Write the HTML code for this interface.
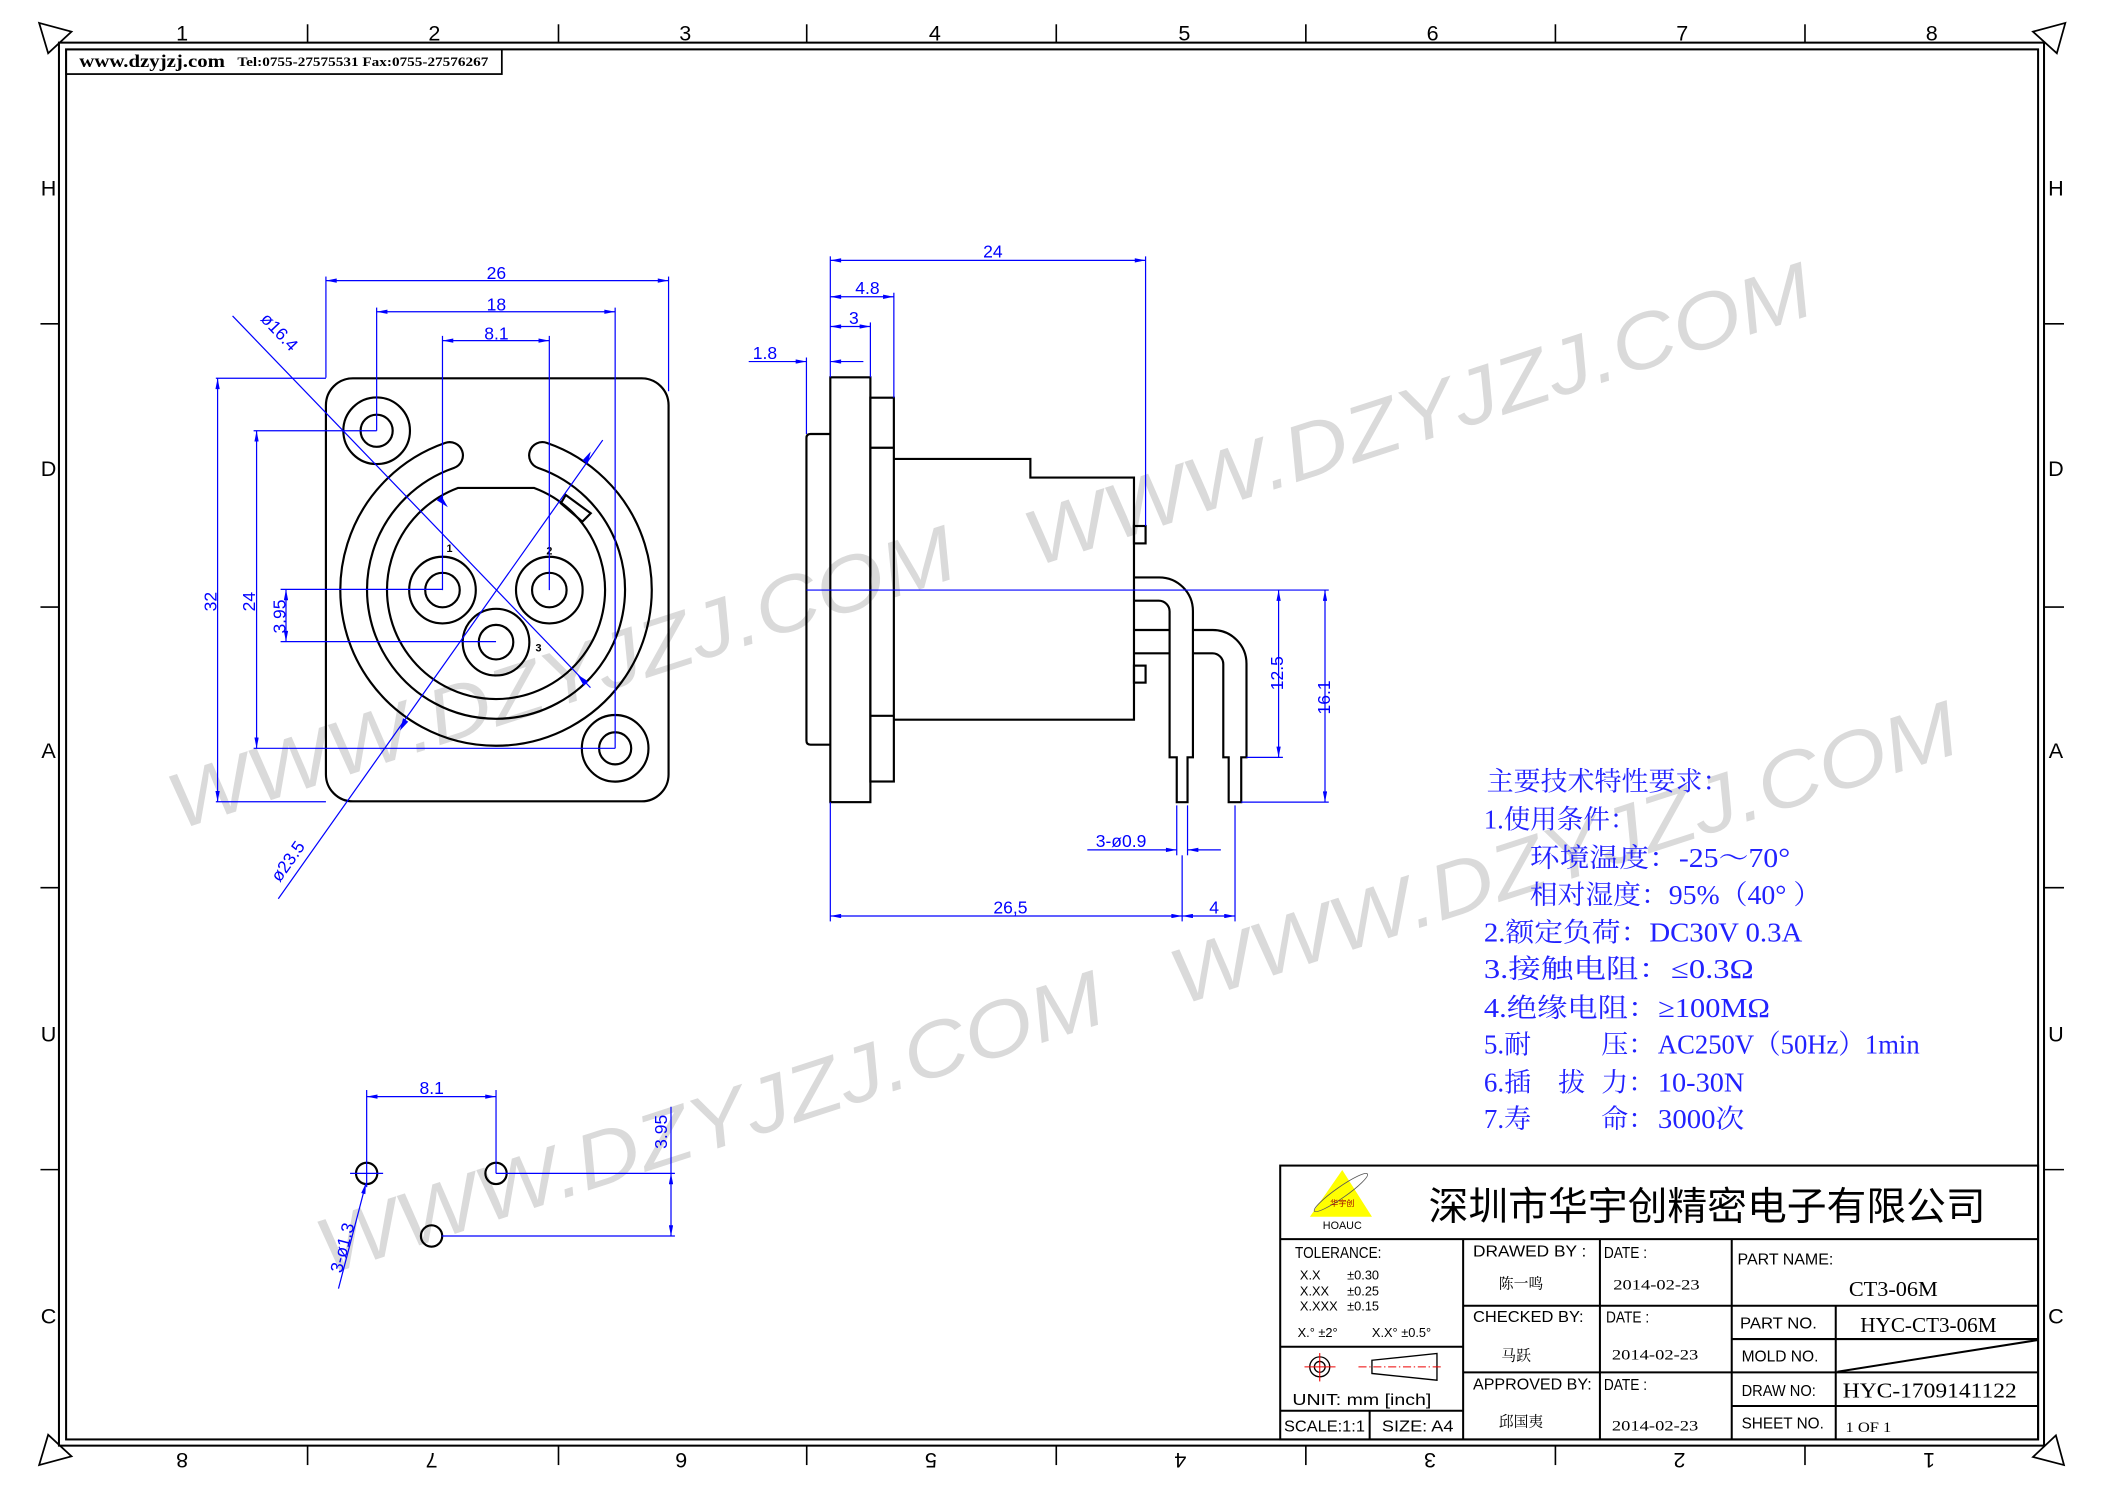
<!DOCTYPE html>
<html><head><meta charset="utf-8"><style>
html,body{margin:0;padding:0;background:#fff;}
svg{display:block;}
.k{stroke:#000;stroke-width:1.6;fill:none;}
.b{stroke:#0000ff;stroke-width:0.9;fill:none;}
.d{font-family:"Liberation Sans",sans-serif;font-size:13px;fill:#0000ff;}
.t{font-family:"Liberation Sans","Noto Sans CJK SC",sans-serif;fill:#000;}
.s{font-family:"Liberation Serif","Noto Serif CJK SC",serif;fill:#000;}
.n{font-family:"Liberation Serif","Noto Serif CJK SC",serif;font-size:20px;fill:#2222ff;}
.w{font-family:"Liberation Sans",sans-serif;font-style:italic;font-size:58px;fill:#dadada;}
</style></head><body>
<svg width="2105" height="1488" viewBox="0 0 1560.4 1103" preserveAspectRatio="none" xmlns="http://www.w3.org/2000/svg">
<defs>
<marker id="a" viewBox="0 0 10 4" refX="10" refY="2" markerWidth="9" markerHeight="3.2" markerUnits="userSpaceOnUse" orient="auto-start-reverse"><path d="M0 0L10 2L0 4z" fill="#0000ff"/></marker>
</defs>
<rect width="1560.4" height="1103" fill="#fff"/>

<g>
<text class="w" x="417" y="522" text-anchor="middle" textLength="610" lengthAdjust="spacingAndGlyphs" transform="rotate(-18 417 505)">WWW.DZYJZJ.COM</text>
<text class="w" x="1052" y="327" text-anchor="middle" textLength="610" lengthAdjust="spacingAndGlyphs" transform="rotate(-18 1052 310)">WWW.DZYJZJ.COM</text>
<text class="w" x="1160" y="652" text-anchor="middle" textLength="610" lengthAdjust="spacingAndGlyphs" transform="rotate(-18 1160 635)">WWW.DZYJZJ.COM</text>
<text class="w" x="527" y="852" text-anchor="middle" textLength="610" lengthAdjust="spacingAndGlyphs" transform="rotate(-18 527 835)">WWW.DZYJZJ.COM</text>
</g>

<rect x="43.7" y="31.6" width="1471.5" height="1040" fill="none" stroke="#000" stroke-width="1.5"/>
<rect x="49" y="36.6" width="1461.8" height="1030.4" fill="none" stroke="#000" stroke-width="1.5"/>
<polygon points="29,17 53,23.5 35.7,39.5" fill="none" stroke="#000" stroke-width="1.3"/>
<polygon points="1531,17 1507,23.5 1524.7,39.5" fill="none" stroke="#000" stroke-width="1.3"/>
<polygon points="29,1086 53,1079.5 35.7,1063.5" fill="none" stroke="#000" stroke-width="1.3"/>
<polygon points="1507,1080 1524,1064 1530,1086" fill="none" stroke="#000" stroke-width="1.3"/>
<g stroke="#000" stroke-width="1.2">
<line x1="228" y1="18" x2="228" y2="31.6"/><line x1="414" y1="18" x2="414" y2="31.6"/><line x1="598" y1="18" x2="598" y2="31.6"/><line x1="783" y1="18" x2="783" y2="31.6"/><line x1="968" y1="18" x2="968" y2="31.6"/><line x1="1153" y1="18" x2="1153" y2="31.6"/><line x1="1338" y1="18" x2="1338" y2="31.6"/>
<line x1="228" y1="1071.6" x2="228" y2="1086"/><line x1="414" y1="1071.6" x2="414" y2="1086"/><line x1="598" y1="1071.6" x2="598" y2="1086"/><line x1="783" y1="1071.6" x2="783" y2="1086"/><line x1="968" y1="1071.6" x2="968" y2="1086"/><line x1="1153" y1="1071.6" x2="1153" y2="1086"/><line x1="1338" y1="1071.6" x2="1338" y2="1086"/>
<line x1="30" y1="240" x2="43.7" y2="240"/><line x1="30" y1="450" x2="43.7" y2="450"/><line x1="30" y1="658" x2="43.7" y2="658"/><line x1="30" y1="867" x2="43.7" y2="867"/>
<line x1="1515" y1="240" x2="1530" y2="240"/><line x1="1515" y1="450" x2="1530" y2="450"/><line x1="1515" y1="658" x2="1530" y2="658"/><line x1="1515" y1="867" x2="1530" y2="867"/>
</g>
<g class="t" font-size="16" text-anchor="middle">
<text x="135" y="30">1</text><text x="322" y="30">2</text><text x="508" y="30">3</text><text x="693" y="30">4</text><text x="878" y="30">5</text><text x="1062" y="30">6</text><text x="1247" y="30">7</text><text x="1432" y="30">8</text>
<text transform="translate(135 1077) rotate(180)">8</text><text transform="translate(320 1077) rotate(180)">7</text><text transform="translate(505 1077) rotate(180)">6</text><text transform="translate(690 1077) rotate(180)">5</text><text transform="translate(875 1077) rotate(180)">4</text><text transform="translate(1060 1077) rotate(180)">3</text><text transform="translate(1245 1077) rotate(180)">2</text><text transform="translate(1430 1077) rotate(180)">1</text>
<text x="36" y="145">H</text><text x="36" y="353">D</text><text x="36" y="562">A</text><text x="36" y="772">U</text><text x="36" y="981">C</text>
<text x="1524" y="145">H</text><text x="1524" y="353">D</text><text x="1524" y="562">A</text><text x="1524" y="772">U</text><text x="1524" y="981">C</text>
</g>

<rect x="49" y="36.6" width="323" height="18.3" fill="none" stroke="#000" stroke-width="1.3"/>
<text class="s" x="58.8" y="49.5" font-size="13" font-weight="bold" textLength="108" lengthAdjust="spacingAndGlyphs">www.dzyjzj.com</text>
<text class="s" x="176" y="49" font-size="9.5" font-weight="bold" textLength="186" lengthAdjust="spacingAndGlyphs">Tel:0755-27575531  Fax:0755-27576267</text>

<rect x="241.6" y="280.4" width="254" height="313.6" rx="20" class="k"/>
<circle cx="279.2" cy="319.3" r="24.7" class="k"/><circle cx="279.2" cy="319.3" r="11.9" class="k"/>
<circle cx="456" cy="554.7" r="24.7" class="k"/><circle cx="456" cy="554.7" r="11.9" class="k"/>
<path class="k" d="M405.3 328.3 A115.4 115.4 0 1 1 330.1 328.3 A9.7 9.7 0 0 1 336.6 346.8 A95.6 95.6 0 1 0 398.8 346.8 A9.7 9.7 0 0 1 405.3 328.3 Z"/>
<path class="k" d="M339.4 361.7 A80.8 80.8 0 1 0 396 361.7 Z"/>
<polygon class="k" points="415.7,373.1 419.4,366.9 437.9,380.5 431.7,386.7" fill="#fff"/>
<circle cx="328" cy="437.4" r="24.7" class="k"/><circle cx="328" cy="437.4" r="12.8" class="k"/>
<circle cx="407.2" cy="437.4" r="24.7" class="k"/><circle cx="407.2" cy="437.4" r="12.8" class="k"/>
<circle cx="367.7" cy="476" r="24.7" class="k"/><circle cx="367.7" cy="476" r="12.8" class="k"/>
<g class="t" font-size="8" font-weight="bold"><text x="331" y="409">1</text><text x="405" y="411">2</text><text x="397" y="483">3</text></g>

<g class="b">
<line x1="241.6" y1="205" x2="241.6" y2="280"/><line x1="495.6" y1="205" x2="495.6" y2="290"/>
<line x1="279.2" y1="228" x2="279.2" y2="319.3"/><line x1="456" y1="228" x2="456" y2="554.7"/>
<line x1="328" y1="249" x2="328" y2="437.4"/><line x1="407.2" y1="249" x2="407.2" y2="437.4"/>
<line x1="241.6" y1="208" x2="495.6" y2="208" marker-start="url(#a)" marker-end="url(#a)"/>
<line x1="279.2" y1="231.1" x2="456" y2="231.1" marker-start="url(#a)" marker-end="url(#a)"/>
<line x1="328" y1="252.5" x2="407.2" y2="252.5" marker-start="url(#a)" marker-end="url(#a)"/>
<line x1="160" y1="280.4" x2="241.6" y2="280.4"/><line x1="160" y1="594.3" x2="241.6" y2="594.3"/>
<line x1="188" y1="319.3" x2="279.2" y2="319.3"/><line x1="188" y1="554.7" x2="456" y2="554.7"/>
<line x1="208" y1="436.9" x2="328" y2="436.9"/><line x1="208" y1="475.6" x2="367.7" y2="475.6"/>
<line x1="161.3" y1="280.4" x2="161.3" y2="594.3" marker-start="url(#a)" marker-end="url(#a)"/>
<line x1="190.2" y1="319.3" x2="190.2" y2="554.7" marker-start="url(#a)" marker-end="url(#a)"/>
<line x1="212" y1="436.9" x2="212" y2="475.6" marker-start="url(#a)" marker-end="url(#a)"/>
<line x1="172.4" y1="234.2" x2="437.7" y2="509.7"/>
<line x1="206.3" y1="666.2" x2="446.8" y2="326.2"/>
</g>
<g fill="#0000ff">
<path d="M332 376 l-8.2 -5.2 l3.4 -3.2z"/>
<path d="M428 500 l8.2 5.2 l-3.4 3.2z"/>
<path d="M437.9 334.7 l-2.3 9.3 l-3.8 -2.7z"/>
<path d="M296.5 541.6 l2.3 -9.3 l3.8 2.7z"/>
</g>
<g class="d" text-anchor="middle">
<text x="368" y="207">26</text><text x="368" y="230">18</text><text x="368" y="251.5">8.1</text>
<text transform="translate(160.5 446) rotate(-90)">32</text>
<text transform="translate(189 446) rotate(-90)">24</text>
<text transform="translate(211.5 457) rotate(-90)">3.95</text>
<text transform="translate(204 249) rotate(46.5)">ø16.4</text>
<text transform="translate(217 641) rotate(-54.7)">ø23.5</text>
</g>

<path class="k" d="M615.5 321.7 H600.8 Q597.8 321.7 597.8 324.7 V549 Q597.8 552 600.8 552 H615.5"/>
<rect x="615.5" y="279.7" width="29.7" height="314.9" class="k"/>
<rect x="645.2" y="294.8" width="17.4" height="284.5" class="k"/>
<line x1="645.2" y1="331.9" x2="662.6" y2="331.9" class="k"/><line x1="645.2" y1="530.6" x2="662.6" y2="530.6" class="k"/>
<path class="k" d="M662.6 340.2 H763.8 V354 H840.6 V533.5 H662.6"/>
<rect x="840.6" y="389.9" width="8.6" height="12.9" class="k"/>
<rect x="840.6" y="493.4" width="8.6" height="12.6" class="k"/>
<path class="k" d="M840.6 428 H859.3 A25 25 0 0 1 884.3 453 V561.4 H880.3 V594.6 H872.3 V561.4 H867 V453.3 A8 8 0 0 0 859 445.3 H840.6"/>
<path class="k" d="M840.6 467 H867 M884.3 467 H899 A25 25 0 0 1 924 492 V561.4 H920.1 V594.6 H910.8 V561.4 H906.8 V492.3 A8 8 0 0 0 898.8 484.3 H884.3 M867 484.3 H840.6"/>

<g class="b">
<line x1="615.5" y1="190" x2="615.5" y2="279.7"/><line x1="615.5" y1="594.6" x2="615.5" y2="683"/>
<line x1="849.2" y1="190" x2="849.2" y2="389.9"/>
<line x1="662.6" y1="217" x2="662.6" y2="294.8"/>
<line x1="645.2" y1="239" x2="645.2" y2="279.7"/>
<line x1="597.8" y1="265" x2="597.8" y2="321.7"/>
<line x1="615.5" y1="193" x2="849.2" y2="193" marker-start="url(#a)" marker-end="url(#a)"/>
<line x1="615.5" y1="220" x2="662.6" y2="220" marker-start="url(#a)" marker-end="url(#a)"/>
<line x1="615.5" y1="242" x2="645.2" y2="242" marker-start="url(#a)" marker-end="url(#a)"/>
<line x1="555" y1="268" x2="597.8" y2="268" marker-end="url(#a)"/>
<line x1="640" y1="268" x2="615.5" y2="268" marker-end="url(#a)"/>
<line x1="597.8" y1="437.4" x2="985" y2="437.4"/>
<line x1="924" y1="561.4" x2="951" y2="561.4"/>
<line x1="920.1" y1="594.6" x2="985" y2="594.6"/>
<line x1="947.8" y1="437.4" x2="947.8" y2="561.4" marker-start="url(#a)" marker-end="url(#a)"/>
<line x1="982.2" y1="437.4" x2="982.2" y2="594.6" marker-start="url(#a)" marker-end="url(#a)"/>
<line x1="872.3" y1="597" x2="872.3" y2="634"/><line x1="880.3" y1="597" x2="880.3" y2="634"/>
<line x1="876.3" y1="634" x2="876.3" y2="683"/>
<line x1="915.5" y1="597" x2="915.5" y2="683"/>
<line x1="806" y1="630" x2="872.3" y2="630" marker-end="url(#a)"/>
<line x1="905" y1="630" x2="880.3" y2="630" marker-end="url(#a)"/>
<line x1="615.5" y1="679" x2="876.3" y2="679" marker-start="url(#a)" marker-end="url(#a)"/>
<line x1="876.3" y1="679" x2="915.5" y2="679" marker-start="url(#a)" marker-end="url(#a)"/>
</g>
<g class="d" text-anchor="middle">
<text x="736" y="191">24</text><text x="643" y="218">4.8</text><text x="633" y="240">3</text><text x="567" y="266">1.8</text>
<text transform="translate(951 499) rotate(-90)">12.5</text>
<text transform="translate(986 517) rotate(-90)">16.1</text>
<text x="831" y="628">3-ø0.9</text>
<text x="749" y="677">26,5</text>
<text x="900" y="677">4</text>
</g>

<circle cx="271.8" cy="869.8" r="7.9" class="k"/>
<circle cx="367.7" cy="869.8" r="7.9" class="k"/>
<circle cx="319.9" cy="916.2" r="7.9" class="k"/>
<g class="b">
<line x1="259.5" y1="869.8" x2="284" y2="869.8"/><line x1="271.8" y1="808" x2="271.8" y2="880"/>
<line x1="367.7" y1="808" x2="367.7" y2="869.8"/>
<line x1="271.8" y1="812.9" x2="367.7" y2="812.9" marker-start="url(#a)" marker-end="url(#a)"/>
<line x1="367.7" y1="869.8" x2="500.3" y2="869.8"/>
<line x1="327.4" y1="916.2" x2="500.3" y2="916.2"/>
<line x1="497.4" y1="820.4" x2="497.4" y2="869.8"/>
<line x1="497.4" y1="916.2" x2="497.4" y2="869.8" marker-start="url(#a)" marker-end="url(#a)"/>
<line x1="250.9" y1="955.2" x2="271.3" y2="877" marker-end="url(#a)"/>
</g>
<g class="d" text-anchor="middle">
<text x="320" y="811">8.1</text>
<text transform="translate(494.5 839) rotate(-90)">3.95</text>
<text transform="translate(258 926) rotate(-75.3)">3-ø1.3</text>
</g>

<g class="n">
<text x="1102" y="586" textLength="180" lengthAdjust="spacingAndGlyphs">主要技术特性要求：</text>
<text x="1100" y="614" textLength="113" lengthAdjust="spacingAndGlyphs">1.使用条件：</text>
<text x="1134" y="642.5" textLength="193" lengthAdjust="spacingAndGlyphs">环境温度：-25～70°</text>
<text x="1134" y="670" textLength="216" lengthAdjust="spacingAndGlyphs">相对湿度：95%（40° ）</text>
<text x="1100" y="698" textLength="236" lengthAdjust="spacingAndGlyphs">2.额定负荷：DC30V 0.3A</text>
<text x="1100" y="725" textLength="200" lengthAdjust="spacingAndGlyphs">3.接触电阻：≤0.3Ω</text>
<text x="1100" y="754" textLength="212" lengthAdjust="spacingAndGlyphs">4.绝缘电阻：≥100MΩ</text>
<text x="1100" y="781">5.耐</text><text x="1187" y="781">压：</text>
<text x="1229" y="781" textLength="194" lengthAdjust="spacingAndGlyphs">AC250V（50Hz）1min</text>
<text x="1100" y="809">6.插</text><text x="1155" y="809">拔</text><text x="1187" y="809">力：</text>
<text x="1229" y="809" textLength="64" lengthAdjust="spacingAndGlyphs">10-30N</text>
<text x="1100" y="836">7.寿</text><text x="1187" y="836">命：</text>
<text x="1229" y="836" textLength="64" lengthAdjust="spacingAndGlyphs">3000次</text>
</g>

<g stroke="#000" stroke-width="1.5" fill="none">
<rect x="949" y="864" width="561.8" height="203"/>
<line x1="949" y1="918.5" x2="1510.8" y2="918.5"/>
<line x1="1084.6" y1="918.5" x2="1084.6" y2="1067"/>
<line x1="1186" y1="918.5" x2="1186" y2="1067"/>
<line x1="1283.7" y1="918.5" x2="1283.7" y2="1067"/>
<line x1="1360.8" y1="967.9" x2="1360.8" y2="1067"/>
<line x1="949" y1="998.3" x2="1084.6" y2="998.3"/>
<line x1="949" y1="1045.7" x2="1084.6" y2="1045.7"/>
<line x1="1015.3" y1="1045.7" x2="1015.3" y2="1067"/>
<line x1="1084.6" y1="967.9" x2="1283.7" y2="967.9"/>
<line x1="1084.6" y1="1017.3" x2="1283.7" y2="1017.3"/>
<line x1="1283.7" y1="967.9" x2="1510.8" y2="967.9"/>
<line x1="1283.7" y1="992.6" x2="1510.8" y2="992.6"/>
<line x1="1283.7" y1="1017.3" x2="1510.8" y2="1017.3"/>
<line x1="1283.7" y1="1042.2" x2="1510.8" y2="1042.2"/>
<line x1="1362" y1="1016.8" x2="1510.8" y2="993.3"/>
</g>
<polygon points="995,867.3 971,901.9 1017,901.9" fill="#ffff00"/>
<ellipse cx="994" cy="884" rx="24" ry="4" fill="none" stroke="#555" stroke-width="0.6" transform="rotate(-35 994 884)"/>
<text x="995" y="894" font-size="6" fill="#a00000" text-anchor="middle" font-family="Noto Sans CJK SC,sans-serif">华宇创</text>
<text class="t" x="995" y="911" font-size="8" text-anchor="middle">HOAUC</text>
<text class="t" x="1059" y="904.4" font-size="29" textLength="413" lengthAdjust="spacingAndGlyphs">深圳市华宇创精密电子有限公司</text>

<g class="t" font-size="11.5">
<text x="960" y="932.6" textLength="64" lengthAdjust="spacingAndGlyphs">TOLERANCE:</text>
<text x="963.6" y="948.4" font-size="9.5">X.X</text><text x="998.6" y="948.4" font-size="9.5">±0.30</text>
<text x="963.6" y="960.3" font-size="9.5">X.XX</text><text x="998.6" y="960.3" font-size="9.5">±0.25</text>
<text x="963.6" y="971.4" font-size="9.5">X.XXX</text><text x="998.6" y="971.4" font-size="9.5">±0.15</text>
<text x="961.9" y="990.9" font-size="9.5">X.° ±2°</text><text x="1017" y="990.9" font-size="9.5">X.X° ±0.5°</text>
<text x="958" y="1041.4" textLength="103" lengthAdjust="spacingAndGlyphs">UNIT:  mm  [inch]</text>
<text x="951.8" y="1061.3" textLength="60" lengthAdjust="spacingAndGlyphs">SCALE:1:1</text>
<text x="1024.4" y="1061.3" textLength="53" lengthAdjust="spacingAndGlyphs">SIZE:  A4</text>
<text x="1091.9" y="931.5" textLength="84" lengthAdjust="spacingAndGlyphs">DRAWED  BY :</text>
<text x="1188.9" y="932.6" textLength="32" lengthAdjust="spacingAndGlyphs">DATE :</text>
<text x="1091.9" y="979.8" textLength="82" lengthAdjust="spacingAndGlyphs">CHECKED  BY:</text>
<text x="1190.5" y="980.5" textLength="32" lengthAdjust="spacingAndGlyphs">DATE :</text>
<text x="1091.9" y="1029.9" textLength="88" lengthAdjust="spacingAndGlyphs">APPROVED  BY:</text>
<text x="1188.9" y="1030.5" textLength="32" lengthAdjust="spacingAndGlyphs">DATE :</text>
<text x="1288" y="937.2" textLength="71" lengthAdjust="spacingAndGlyphs">PART  NAME:</text>
<text x="1289.8" y="984.7" textLength="57" lengthAdjust="spacingAndGlyphs">PART  NO.</text>
<text x="1291" y="1009.4" textLength="57" lengthAdjust="spacingAndGlyphs">MOLD  NO.</text>
<text x="1291" y="1034.9" textLength="55" lengthAdjust="spacingAndGlyphs">DRAW  NO:</text>
<text x="1291" y="1059" textLength="61" lengthAdjust="spacingAndGlyphs">SHEET  NO.</text>
</g>
<circle cx="978.3" cy="1013.2" r="7.4" fill="none" stroke="#000" stroke-width="1"/>
<circle cx="978.3" cy="1013.2" r="4" fill="none" stroke="#000" stroke-width="1"/>
<line x1="967" y1="1013.2" x2="990" y2="1013.2" stroke="#e00" stroke-width="0.8"/>
<line x1="978.3" y1="1003" x2="978.3" y2="1024" stroke="#e00" stroke-width="0.8"/>
<polygon points="1017,1008.3 1065.2,1003.3 1065.2,1023.1 1017,1018.1" fill="none" stroke="#000" stroke-width="1"/>
<line x1="1007" y1="1013.2" x2="1070" y2="1013.2" stroke="#e00" stroke-width="0.8" stroke-dasharray="6 2 1 2"/>
<g class="s" font-size="11">
<text x="1111" y="955" font-family="Noto Serif CJK SC,serif">陈一鸣</text>
<text x="1112.9" y="1008.4" font-family="Noto Serif CJK SC,serif">马跃</text>
<text x="1111" y="1057.5" font-family="Noto Serif CJK SC,serif">邱国夷</text>
<text x="1195.9" y="955.7" textLength="64" lengthAdjust="spacingAndGlyphs">2014-02-23</text>
<text x="1194.9" y="1007.9" textLength="64" lengthAdjust="spacingAndGlyphs">2014-02-23</text>
<text x="1194.9" y="1060.2" textLength="64" lengthAdjust="spacingAndGlyphs">2014-02-23</text>
<text x="1370.5" y="960.8" font-size="16" textLength="66" lengthAdjust="spacingAndGlyphs">CT3-06M</text>
<text x="1379" y="987.2" font-size="16" textLength="101" lengthAdjust="spacingAndGlyphs">HYC-CT3-06M</text>
<text x="1366" y="1035.9" font-size="16" textLength="129" lengthAdjust="spacingAndGlyphs">HYC-1709141122</text>
<text x="1368" y="1061.5" font-size="11" textLength="34" lengthAdjust="spacingAndGlyphs">1 OF 1</text>
</g>
</svg>
</body></html>
